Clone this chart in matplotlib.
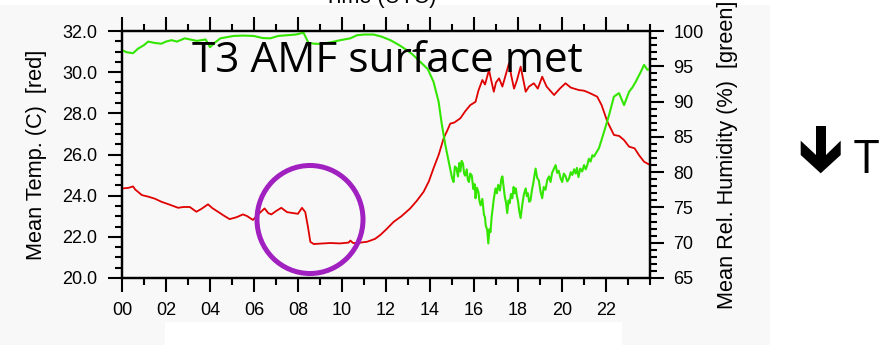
import numpy as np
import matplotlib; matplotlib.use("Agg")
import matplotlib.pyplot as plt
from matplotlib.ticker import MultipleLocator, FormatStrFormatter
from matplotlib.patches import Ellipse, Polygon, Rectangle

W, H = 893, 345

# ---- data (hours UTC) ----
temp_hours = [0.0, 0.3, 0.5, 0.6, 0.9, 1.2, 1.5, 1.8, 2.2, 2.55, 2.8, 3.08, 3.38, 3.6,
              3.91, 4.1, 4.36, 4.6, 4.89, 5.2, 5.5, 5.7, 5.95, 6.2, 6.48, 6.65, 6.79,
              7.0, 7.24, 7.5, 7.8, 8.0, 8.18, 8.33, 8.45, 8.56, 8.71, 9.0, 9.47, 9.9,
              10.3, 10.38, 10.5, 10.68, 11.14, 11.5, 11.74, 12.0, 12.35, 12.7, 13.1,
              13.4, 13.71, 13.95, 14.16, 14.4, 14.62, 14.8, 14.92, 15.1, 15.38, 15.6,
              15.83, 16.07, 16.2, 16.38, 16.5, 16.68, 16.9, 17.0, 17.14, 17.29, 17.45,
              17.59, 17.7, 17.82, 17.95, 18.12, 18.35, 18.5, 18.72, 18.9, 19.1, 19.3,
              19.64, 19.9, 20.16, 20.4, 20.77, 21.0, 21.23, 21.6, 21.8, 22.06, 22.36,
              22.6, 22.82, 23.05, 23.3, 23.5, 23.73, 24.0]
temp_c = [24.35, 24.38, 24.45, 24.3, 24.03, 23.95, 23.85, 23.7, 23.55, 23.41, 23.45,
          23.45, 23.22, 23.35, 23.58, 23.4, 23.22, 23.05, 22.86, 22.95, 23.09, 23.0,
          22.82, 23.1, 23.38, 23.15, 23.09, 23.25, 23.41, 23.2, 23.15, 23.12, 23.41,
          23.2, 22.5, 21.76, 21.65, 21.67, 21.7, 21.68, 21.72, 21.82, 21.7, 21.7,
          21.76, 21.9, 22.09, 22.35, 22.73, 23.0, 23.38, 23.75, 24.19, 24.7, 25.33,
          26.0, 26.79, 27.2, 27.5, 27.55, 27.76, 28.1, 28.4, 28.56, 29.1, 29.62, 29.4,
          30.1, 29.05, 29.5, 29.7, 29.3, 29.9, 30.43, 29.8, 29.2, 29.6, 30.27, 29.05,
          29.3, 29.46, 29.2, 29.78, 29.3, 28.89, 29.2, 29.46, 29.25, 29.13, 29.1, 29.0,
          28.81, 28.4, 27.6, 26.95, 26.9, 26.7, 26.38, 26.3, 25.97, 25.65, 25.49]

rh_hours = [0.0, 0.2, 0.5, 0.73, 1.0, 1.19, 1.5, 1.79, 2.0, 2.25, 2.5, 2.85, 3.1, 3.4,
            3.8, 4.0, 4.2, 4.47, 5.07, 5.5, 5.98, 6.4, 6.74, 7.1, 7.5, 7.9, 8.25, 8.48,
            8.75, 9.0, 9.5, 9.92, 10.38, 10.68, 11.0, 11.44, 11.8, 12.2, 12.6, 12.94,
            13.2, 13.4, 13.7, 13.9, 14.16, 14.39, 14.54, 14.7, 14.85,
            14.92, 15.0, 15.07, 15.13, 15.2, 15.27, 15.33, 15.38, 15.44, 15.5, 15.55,
            15.6, 15.67, 15.72, 15.77, 15.83, 15.9, 15.97, 16.03, 16.07, 16.13, 16.2,
            16.25, 16.3, 16.38, 16.45, 16.5, 16.53, 16.6, 16.65, 16.7, 16.75, 16.8,
            16.83, 16.9, 16.98, 17.04, 17.1, 17.18, 17.24, 17.29, 17.35, 17.4, 17.46,
            17.51, 17.57, 17.62, 17.68, 17.74, 17.8, 17.85, 17.9, 17.95, 18.0, 18.06,
            18.12, 18.17, 18.2, 18.27, 18.35, 18.4, 18.45, 18.51, 18.57, 18.63, 18.7,
            18.75, 18.8, 18.87, 18.95, 19.02, 19.1, 19.17, 19.25, 19.33, 19.41, 19.48,
            19.55, 19.62, 19.71, 19.78, 19.85, 19.93, 20.01, 20.08, 20.15, 20.24,
            20.32, 20.4, 20.47, 20.55, 20.62, 20.68, 20.75, 20.83, 20.92, 21.0, 21.08,
            21.15, 21.22, 21.3, 21.38, 21.45,
            21.68, 21.91, 22.14, 22.36, 22.59, 22.82, 23.05, 23.2, 23.35, 23.58,
            23.73, 23.88, 24.0]
rh_pct = [97.3, 97.0, 96.85, 97.5, 98.0, 98.5, 98.3, 98.2, 98.5, 98.7, 98.5, 98.96,
          98.8, 98.6, 98.8, 97.7, 98.3, 98.96, 99.3, 99.35, 99.3, 99.0, 98.96, 99.3,
          99.4, 99.5, 99.76, 98.3, 98.2, 98.16, 98.4, 98.7, 98.96, 99.4, 99.5, 99.5,
          99.2, 98.7, 98.0, 97.3, 96.7, 96.1, 95.2, 94.6, 92.8, 90.0, 86.7, 83.8, 81.5,
          80.5, 79.2, 78.6, 80.8, 80.6, 79.4, 81.3, 80.1, 81.6, 81.2, 79.8,
          79.5, 80.4, 78.9, 78.6, 79.8, 79.5, 77.6, 78.3, 76.3, 77.8, 77.2,
          75.9, 75.3, 76.2, 74.0, 73.6, 72.5, 71.8, 69.9, 71.9, 71.5, 73.6,
          74.4, 76.2, 77.7, 77.0, 78.2, 77.4, 79.0, 79.4, 77.8, 76.5, 75.6,
          74.2, 76.0, 75.6, 76.9, 76.3, 77.9, 77.0, 77.7, 76.6, 75.9, 74.4,
          73.5, 74.8, 75.5, 76.9, 77.7, 76.6, 77.0, 75.8, 76.0, 77.4, 78.5,
          79.6, 80.5, 79.2, 78.8, 77.3, 76.3, 77.9, 77.5, 78.9, 79.4, 78.6,
          79.9, 80.4, 81.0, 79.9, 80.2, 79.2, 78.6, 79.8, 79.5, 78.7,
          79.1, 80.0, 79.6, 80.4, 79.8, 80.6, 79.3, 80.5, 80.1, 81.0, 80.4,
          81.0, 81.9, 81.5, 82.4, 82.2,
          83.4, 85.7, 88.1, 90.7, 91.2, 89.5, 91.4, 92.0, 92.8, 94.2,
          95.2, 94.5, 94.6]

hour_ticks = list(range(0, 24, 2))
hour_labels = [f"{h:02d}" for h in hour_ticks]

RED = "#e00000"
GREEN = "#33e600"
PURPLE = "#a020c0"
TICKFONT = "Liberation Sans"


def fx(x):
    return x / W


def fy(y):
    return 1 - y / H


fig = plt.figure(figsize=(W / 100, H / 100), dpi=100, facecolor="white")

# pasted-image look: light gray panel with a white notch under the axis
fig.patches.append(Rectangle((0, 0), fx(770), fy(5), transform=fig.transFigure,
                             facecolor="#f8f8f8", edgecolor="none", zorder=-10))
fig.patches.append(Rectangle((fx(165), 0), fx(622) - fx(165), fy(322),
                             transform=fig.transFigure, facecolor="white",
                             edgecolor="none", zorder=-9))

ax = fig.add_axes([fx(122), fy(278), fx(650) - fx(122), fy(31) - fy(278)])
ax.set_facecolor("none")
ax2 = ax.twinx()

ax2.plot(rh_hours, rh_pct, color=GREEN, lw=1.5)
ax.plot(temp_hours, temp_c, color=RED, lw=1.3, zorder=3)

ax.set_xlim(0, 24)
ax.set_ylim(20, 32)
ax2.set_ylim(65, 100)

ax.set_xticks(hour_ticks)
ax.set_xticklabels(hour_labels)
ax.xaxis.set_minor_locator(MultipleLocator(1))
ax.yaxis.set_major_locator(MultipleLocator(2))
ax.yaxis.set_minor_locator(MultipleLocator(0.5))
ax.yaxis.set_major_formatter(FormatStrFormatter("%.1f"))
ax2.yaxis.set_major_locator(MultipleLocator(5))
ax2.yaxis.set_minor_locator(MultipleLocator(1))

for a in (ax, ax2):
    for s in a.spines.values():
        s.set_linewidth(1.6)
ax.tick_params(axis="x", which="both", direction="out", top=True, bottom=True,
               width=1.5, labelsize=13, pad=7)
ax.tick_params(axis="x", which="major", length=10)
ax.tick_params(axis="x", which="minor", length=5)
ax.tick_params(axis="y", which="both", direction="out", width=1.5, labelsize=13, pad=8)
ax.tick_params(axis="y", which="major", length=10)
ax.tick_params(axis="y", which="minor", length=5)
ax2.tick_params(axis="y", which="both", direction="out", width=1.5, labelsize=13, pad=7)
ax2.tick_params(axis="y", which="major", length=10)
ax2.tick_params(axis="y", which="minor", length=5)
for lab in ax.get_xticklabels() + ax.get_yticklabels() + ax2.get_yticklabels():
    lab.set_fontfamily(TICKFONT)

fig.text(fx(37), fy(154.5), "Mean Temp. (C)  [red]", rotation=90, ha="center",
         va="center", fontsize=15.7, family=TICKFONT)
fig.text(fx(727), fy(154.5), "Mean Rel. Humidity (%)  [green]", rotation=90,
         ha="center", va="center", fontsize=15.7, family=TICKFONT)
fig.text(fx(380), fy(3), "Time (UTC)", ha="center", va="baseline",
         fontsize=15.7, family=TICKFONT)

# slide annotations
fig.text(fx(192), fy(72), "T3 AMF surface met", ha="left", va="baseline",
         fontsize=30.5, family="Open Sans", color="black")
fig.patches.append(Ellipse((fx(310), fy(219.5)), 106 / W, 108 / H,
                           transform=fig.transFigure, fill=False,
                           edgecolor=PURPLE, lw=3.6, zorder=5))
arrow_px = [(816, 126), (826, 126), (826, 155), (840.7, 140.7), (840.7, 155),
            (820.7, 173.3), (800.7, 155), (800.7, 140.7), (816, 155)]
fig.patches.append(Polygon([(fx(x), fy(y)) for x, y in arrow_px], closed=True,
                           transform=fig.transFigure, facecolor="black",
                           edgecolor="none"))
fig.text(fx(854), fy(173), "T", ha="left", va="baseline", fontsize=33,
         family="Open Sans", color="black")

fig.savefig("out.png", dpi=100, facecolor=fig.get_facecolor())
